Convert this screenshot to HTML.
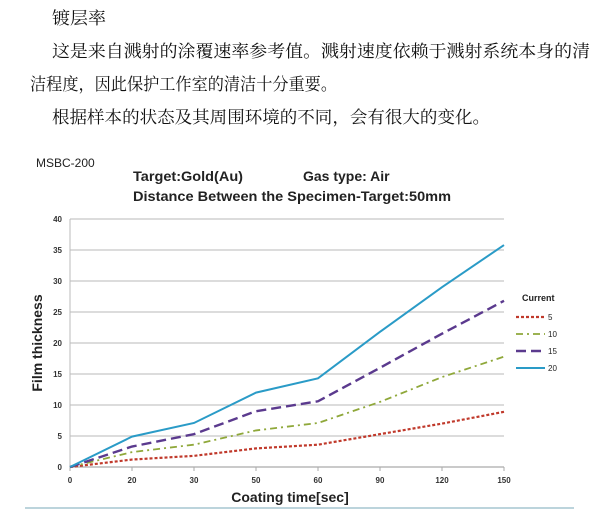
<!DOCTYPE html>
<html><head><meta charset="utf-8"><style>
body{margin:0;width:600px;height:523px;background:#fff;overflow:hidden;position:relative;}
svg{position:absolute;left:0;top:0}
.t{font-family:"Noto Serif CJK SC","Liberation Serif",serif;font-size:17px;fill:#111;}
</style></head><body>
<svg width="600" height="130">
<text class="t" x="52" y="24" textLength="54" lengthAdjust="spacingAndGlyphs">镀层率</text>
<text class="t" x="52" y="57" textLength="538" lengthAdjust="spacingAndGlyphs">这是来自溅射的涂覆速率参考值。溅射速度依赖于溅射系统本身的清</text>
<text class="t" x="30" y="90" textLength="307" lengthAdjust="spacingAndGlyphs">洁程度，因此保护工作室的清洁十分重要。</text>
<text class="t" x="52" y="123" textLength="438" lengthAdjust="spacingAndGlyphs">根据样本的状态及其周围环境的不同，会有很大的变化。</text>
</svg>
<svg id="chart" width="600" height="523" font-family="Liberation Sans, sans-serif" style="top:0">
<text x="36" y="167" font-size="12" fill="#222">MSBC-200</text>
<text x="133" y="181" font-size="14" font-weight="bold" fill="#222" textLength="110" lengthAdjust="spacingAndGlyphs">Target:Gold(Au)</text>
<text x="303" y="181" font-size="14" font-weight="bold" fill="#222">Gas  type:  Air</text>
<text x="133" y="201" font-size="14" font-weight="bold" fill="#222" textLength="318" lengthAdjust="spacingAndGlyphs">Distance Between the Specimen-Target:50mm</text>
<text transform="translate(42,343) rotate(-90)" text-anchor="middle" font-size="14" font-weight="bold" fill="#222">Film thickness</text>
<text x="290" y="502" text-anchor="middle" font-size="14" font-weight="bold" fill="#222">Coating time[sec]</text>
<line x1="25" y1="508" x2="574" y2="508" stroke="#7aa8b8" stroke-width="1"/>
<g id="grid"></g><g id="series"></g><g id="legend"></g>
</svg>
<script>
const categories=["0","20","30","50","60","90","120","150"];
const yTicks=[0,5,10,15,20,25,30,35,40];
const seriesNames=["5","10","15","20"];
const s5=[0,1.2,1.8,3,3.6,5.3,7,8.9];
const s10=[0,2.4,3.6,5.9,7.1,10.5,14.5,17.8];
const s15=[0,3.3,5.3,9,10.6,16,21.5,26.8];
const s20=[0,4.9,7.1,12,14.3,21.8,29,35.8];
const NS="http://www.w3.org/2000/svg";
const x0=70,x1=504,y0=467,y1=219;
const xs=i=>x0+i*(x1-x0)/(categories.length-1);
const ys=v=>y0-v*(y0-y1)/40;
function mk(t,a,p){const e=document.createElementNS(NS,t);for(const k in a)e.setAttribute(k,a[k]);p.appendChild(e);return e;}
const grid=document.getElementById('grid');
yTicks.forEach(v=>{
 const l=mk('line',{x1:x0,x2:x1,y1:ys(v),y2:ys(v),stroke:v===0?'#aaa':'#c8c8c8','stroke-width':1.3},grid);
 
 
 const t=mk('text',{x:x0-8,y:ys(v)+3,'text-anchor':'end','font-size':8,'font-weight':'bold',fill:'#333'},grid);
 t.textContent=v;
 
 
});
const ax=mk('line',{x1:x0,x2:x0,y1:y1,y2:y0,stroke:'#bbb','stroke-width':1},grid);


categories.forEach((c,i)=>{
 const tk=mk('line',{x1:xs(i),x2:xs(i),y1:y0,y2:y0+4,stroke:'#aaa'},grid);
 
 
 const t=mk('text',{x:xs(i),y:y0+16,'text-anchor':'middle','font-size':8,'font-weight':'bold',fill:'#333'},grid);
 t.textContent=c;
 
 
});
const styles=[{c:'#c0392b',d:'3,2',w:2.2},{c:'#8fa83a',d:'7,4,2,4',w:1.8},{c:'#5b3a8e',d:'10,5',w:2.4},{c:'#2a9bc7',d:'',w:2}];
const data=[s5,s10,s15,s20];
const sg=document.getElementById('series');
data.forEach((arr,k)=>{
 const p=mk('polyline',{points:arr.map((v,i)=>xs(i)+','+ys(v)).join(' '),fill:'none',stroke:styles[k].c,'stroke-width':styles[k].w,'stroke-dasharray':styles[k].d},sg);
 
 
});
const lg=document.getElementById('legend');
const lt=mk('text',{x:522,y:301,'font-size':9,'font-weight':'bold',fill:'#222'},lg);
lt.textContent='Current';


seriesNames.forEach((n,k)=>{
 const y=317+k*17;
 const l=mk('line',{x1:516,x2:545,y1:y,y2:y,stroke:styles[k].c,'stroke-width':styles[k].w,'stroke-dasharray':styles[k].d},lg);
 
 
 const t=mk('text',{x:548,y:y+3,'font-size':8,fill:'#222'},lg);
 t.textContent=n;
 
 
});
</script>
</body></html>
